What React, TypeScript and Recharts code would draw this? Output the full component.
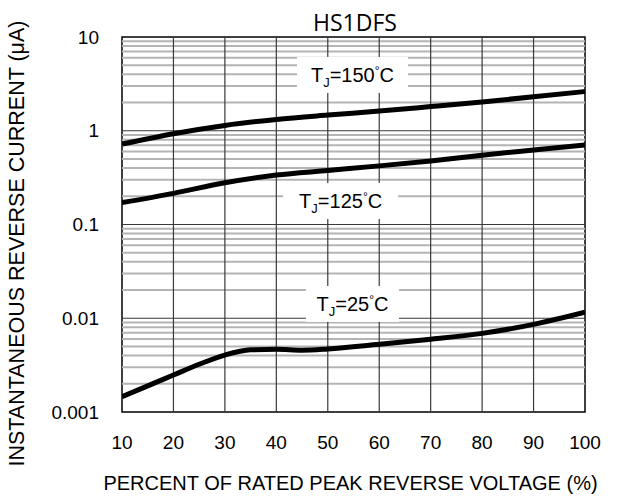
import React from "react";
import {
  LineChart,
  Line,
  XAxis,
  YAxis,
  ReferenceLine,
  ReferenceArea,
  ReferenceDot,
  Label,
  Customized,
} from "recharts";

// Percent of rated peak reverse voltage (x values)
const percentVoltage = [10, 20, 30, 40, 50, 60, 70, 80, 90, 100];
const percentVoltage25 = [10, 15, 20, 25, 30, 35, 40, 45, 50, 60, 70, 80, 90, 100];

// Instantaneous reverse current (µA)
const current150 = [0.72, 0.93, 1.14, 1.32, 1.47, 1.62, 1.81, 2.03, 2.3, 2.62];
const current125 = [0.171, 0.215, 0.279, 0.337, 0.377, 0.422, 0.477, 0.549, 0.623, 0.705];
const current25 = [
  0.00146, 0.0019, 0.00248, 0.00323, 0.00405, 0.0046, 0.00466, 0.00456, 0.0047,
  0.00527, 0.00596, 0.0069, 0.0086, 0.0116,
];

const xTicks = [10, 20, 30, 40, 50, 60, 70, 80, 90, 100];
const yTicks = [0.001, 0.01, 0.1, 1, 10];
const yTickLabels = ["0.001", "0.01", "0.1", "1", "10"];

const title = "HS1DFS";
const xTitle = "PERCENT OF RATED PEAK REVERSE VOLTAGE (%)";
const yTitle = "INSTANTANEOUS REVERSE CURRENT (μA)";

const series = [
  { key: "150", xs: percentVoltage, ys: current150 },
  { key: "125", xs: percentVoltage, ys: current125 },
  { key: "25", xs: percentVoltage25, ys: current25 },
];

// Curve labels: temperature text, anchor in data units, white box width
const curveLabels = [
  { temp: "150", x: 54.8, y: 3.94, boxW: 111 },
  { temp: "125", x: 52.5, y: 0.178, boxW: 115 },
  { temp: "25", x: 54.8, y: 0.0142, boxW: 93 },
];

const W = 617;
const H = 497;
const ARIAL = "'Liberation Sans', Arial, sans-serif";

// grid values: minor 2..9 within each decade, major at decades
const minorValues: number[] = [];
[0.001, 0.01, 0.1, 1].forEach((d) => {
  for (let m = 2; m <= 9; m++) minorValues.push(+(d * m).toPrecision(3));
});
const majorValues = [0.01, 0.1, 1];
const verticalValues = [20, 30, 40, 50, 60, 70, 80, 90];

const TjLabel = (props: any) => {
  const { cx, cy, temp, boxW } = props;
  if (cx == null || cy == null) return null;
  return (
    <g>
      <rect x={cx - boxW / 2} y={cy - 18} width={boxW} height={36} fill="#fff" />
      <text x={cx} y={cy + 7} textAnchor="middle" fontFamily={ARIAL} fontSize={20} fill="#000">
        T
        <tspan fontSize={13} dy={5}>J</tspan>
        <tspan dy={-5}>={temp}</tspan>
        <tspan fontSize={12} dy={-7}>°</tspan>
        <tspan dy={7}>C</tspan>
      </text>
    </g>
  );
};

export default function App() {
  return (
    <div style={{ position: "absolute", left: 0, top: 0, width: W, height: H, background: "#fff" }}>
      <LineChart width={W} height={H} margin={{ top: 37, right: 32, bottom: 25, left: 0 }}>
        <XAxis
          dataKey="x"
          type="number"
          domain={[10, 100]}
          ticks={xTicks}
          allowDataOverflow
          axisLine={false}
          tickLine={false}
          tickSize={0}
          tickMargin={24}
          height={60}
          tick={{ fill: "#000", fontSize: 19, fontFamily: ARIAL }}
        >
          <Label
            content={({ viewBox }: any) => (
              <text
                x={viewBox.x + viewBox.width / 2 - 3}
                y={viewBox.y + 78}
                textAnchor="middle"
                fontFamily={ARIAL}
                fontSize={20}
                fill="#000"
              >
                {xTitle}
              </text>
            )}
          />
        </XAxis>
        <YAxis
          dataKey="y"
          type="number"
          scale="log"
          domain={[0.001, 10]}
          ticks={yTicks}
          allowDataOverflow
          axisLine={false}
          tickLine={false}
          tickSize={0}
          tickMargin={23}
          width={122}
          tickFormatter={(v: number) => yTickLabels[yTicks.indexOf(v)] ?? String(v)}
          tick={{ fill: "#000", fontSize: 19, fontFamily: ARIAL }}
        >
          <Label
            content={() => (
              <text
                x={24}
                y={243.5}
                transform="rotate(-90 24 243.5)"
                textAnchor="middle"
                fontFamily={ARIAL}
                fontSize={21.5}
                fill="#000"
              >
                {yTitle}
              </text>
            )}
          />
        </YAxis>
        {minorValues.map((v) => (
          <ReferenceLine key={"mn" + v} y={v} stroke="#b4b4b4" strokeWidth={2} />
        ))}
        {majorValues.map((v) => (
          <ReferenceLine key={"mj" + v} y={v} stroke="#3a3a3a" strokeWidth={1.2} />
        ))}
        {verticalValues.map((v) => (
          <ReferenceLine key={"v" + v} x={v} stroke="#3a3a3a" strokeWidth={1.2} />
        ))}
        <ReferenceArea
          x1={10}
          x2={100}
          y1={0.001}
          y2={10}
          fill="none"
          fillOpacity={0}
          stroke="#000"
          strokeWidth={1.5}
        />
        {curveLabels.map((l) => (
          <ReferenceDot
            key={l.temp}
            x={l.x}
            y={l.y}
            r={1}
            shape={(p: any) => <TjLabel {...p} temp={l.temp} boxW={l.boxW} />}
          />
        ))}
        {series.map((s) => (
          <Line
            key={s.key}
            data={s.xs.map((x, i) => ({ x, y: s.ys[i] }))}
            dataKey="y"
            type="monotone"
            stroke="#000"
            strokeWidth={5}
            dot={false}
            activeDot={false}
            isAnimationActive={false}
          />
        ))}
        <Customized
          component={() => (
            <text
              x={355}
              y={31}
              textAnchor="middle"
              fontFamily="'Open Sans', sans-serif"
              fontSize={23}
              fill="#000"
            >
              {title}
            </text>
          )}
        />
      </LineChart>
    </div>
  );
}
